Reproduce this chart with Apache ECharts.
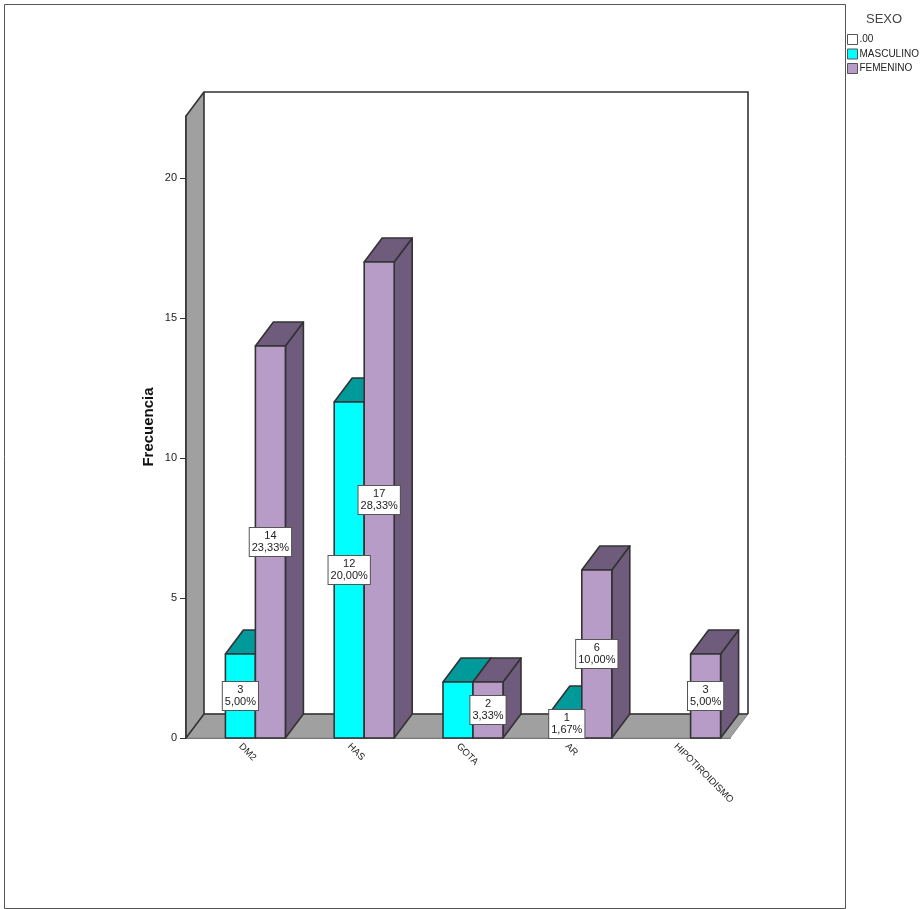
<!DOCTYPE html>
<html>
<head>
<meta charset="utf-8">
<style>html,body{margin:0;padding:0;background:#fff}#chart{width:924px;height:909px}</style>
<script src="https://cdn.jsdelivr.net/npm/echarts@6/dist/echarts.min.js"></script>
</head>
<body>
<div id="chart"></div>
<script>
// Frequency of diagnoses by sex, drawn as extruded bars
const categories = ['DM2', 'HAS', 'GOTA', 'AR', 'HIPOTIROIDISMO'];
const blankValues = [0, 0, 0, 0, 0];
const maleValues = [3, 12, 2, 1, 0];
const femaleValues = [14, 17, 2, 6, 3];
const malePercents = ['5,00%', '20,00%', null, '1,67%', null];
const femalePercents = ['23,33%', '28,33%', '3,33%', '10,00%', '5,00%'];
const yTicks = [0, 5, 10, 15, 20];

// Extrusion offset of the plot box and bars, in pixels
const DEPTH_X = 18, DEPTH_Y = 24;
// Each category holds three side-by-side slots
const SLOT_SHARE = 0.2757;
const INK = '#333333';
const LINE = 1.6;

function poly(points, fill) {
  return { type: 'polygon', shape: { points }, style: { fill, stroke: INK, lineWidth: LINE, lineJoin: 'round' } };
}

function line(points) {
  return { type: 'polyline', shape: { points }, style: { fill: null, stroke: INK, lineWidth: LINE } };
}

function renderBox(params) {
  const c = params.coordSys;
  const l = c.x, r = c.x + c.width, t = c.y, b = c.y + c.height;
  const wall = '#a0a0a0';
  return {
    type: 'group',
    children: [
      // Floor fill carries no outline so its far-right diagonal stays soft
      {
        type: 'polygon',
        shape: { points: [[l, b], [l + DEPTH_X, b - DEPTH_Y], [r + DEPTH_X, b - DEPTH_Y], [r, b]] },
        style: { fill: wall, stroke: '#8a8a8a', lineWidth: 1 }
      },
      line([[l + DEPTH_X, b - DEPTH_Y], [r + DEPTH_X, b - DEPTH_Y]]),
      poly([[l, t], [l + DEPTH_X, t - DEPTH_Y], [l + DEPTH_X, b - DEPTH_Y], [l, b]], wall),
      line([[l + DEPTH_X, t - DEPTH_Y], [r + DEPTH_X, t - DEPTH_Y], [r + DEPTH_X, b - DEPTH_Y]])
    ]
  };
}

function slotRect(api, slot) {
  const top = api.coord([api.value(0), api.value(1)]);
  const base = api.coord([api.value(0), 0]);
  const w = api.size([1, 0])[0] * SLOT_SHARE;
  const x0 = top[0] + (slot - 0.5) * w;
  return { x0, x1: x0 + w, w, top: top[1], base: base[1] };
}

function barRenderer(slot, front, shade) {
  return function (params, api) {
    if (!api.value(1)) return null;
    const { x0, x1, top, base } = slotRect(api, slot);
    const dx = DEPTH_X, dy = DEPTH_Y;
    return {
      type: 'group',
      children: [
        poly([[x1, top], [x1 + dx, top - dy], [x1 + dx, base - dy], [x1, base]], shade),
        poly([[x0, top], [x0 + dx, top - dy], [x1 + dx, top - dy], [x1, top]], shade),
        poly([[x0, top], [x1, top], [x1, base], [x0, base]], front)
      ]
    };
  };
}

function labelRenderer(slot, percents) {
  return function (params, api) {
    const pct = percents[params.dataIndex];
    if (!api.value(1) || !pct) return null;
    const { x0, w, top, base } = slotRect(api, slot);
    return {
      type: 'text',
      x: x0 + w / 2,
      y: (top + base) / 2,
      style: {
        text: api.value(1) + '\n' + pct,
        align: 'center',
        verticalAlign: 'middle',
        fontFamily: 'Liberation Sans',
        fontSize: 11,
        lineHeight: 12,
        fill: '#222',
        backgroundColor: '#fff',
        borderColor: '#555',
        borderWidth: 1,
        padding: [2, 2, 2, 2]
      }
    };
  };
}

const rows = values => values.map((v, i) => [i, v]);
const xy = { x: 0, y: 1 };

const option = {
  animation: false,
  backgroundColor: '#fff',
  textStyle: { fontFamily: 'Liberation Sans' },
  title: {
    text: 'SEXO', left: 861, top: 8,
    textStyle: { fontSize: 13, fontWeight: 'normal', color: '#444', fontFamily: 'Liberation Sans' }
  },
  legend: {
    left: 847, top: 34, orient: 'vertical', itemWidth: 10, itemHeight: 10, itemGap: 3.5,
    padding: 0, selectedMode: false, icon: 'rect',
    textStyle: { fontSize: 10, color: '#222', padding: [0, 0, 0, -3] },
    data: [
      { name: '.00', itemStyle: { color: '#fff', borderColor: '#555', borderWidth: 1 } },
      { name: 'MASCULINO', itemStyle: { color: '#00ffff', borderColor: '#555', borderWidth: 1 } },
      { name: 'FEMENINO', itemStyle: { color: '#b89cc8', borderColor: '#555', borderWidth: 1 } }
    ]
  },
  grid: { left: 186, top: 116, width: 544, height: 622 },
  xAxis: {
    type: 'category',
    data: categories,
    axisLine: { lineStyle: { color: INK, width: LINE } },
    axisTick: { alignWithLabel: true, length: 6, lineStyle: { color: INK } },
    axisLabel: { rotate: -45, fontSize: 9.5, color: '#222', margin: 7, interval: 0 }
  },
  yAxis: {
    type: 'value',
    min: 0,
    max: 622 / 28,
    name: 'Frecuencia',
    nameLocation: 'middle',
    nameGap: 30,
    nameMoveOverlap: false,
    nameTextStyle: { fontSize: 15, fontWeight: 'bold', color: '#111' },
    splitLine: { show: false },
    axisLine: { show: true, lineStyle: { color: INK, width: LINE } },
    axisTick: { show: true, length: 6, lineStyle: { color: INK }, customValues: yTicks },
    axisLabel: { fontSize: 11, color: '#222', margin: 9, customValues: yTicks }
  },
  graphic: [{
    type: 'rect', silent: true, z: -1,
    shape: { x: 4.5, y: 4.5, width: 841, height: 904 },
    style: { fill: null, stroke: '#555', lineWidth: 1 }
  }],
  series: [
    { type: 'custom', name: 'box', z: 1, silent: true, data: [[0, 0]], encode: xy, renderItem: renderBox },
    { type: 'custom', name: '.00', z: 2, data: rows(blankValues), encode: xy, itemStyle: { color: '#fff' },
      renderItem: barRenderer(-1, '#ffffff', '#999999') },
    { type: 'custom', name: 'MASCULINO', z: 2, data: rows(maleValues), encode: xy, itemStyle: { color: '#00ffff' },
      renderItem: barRenderer(0, '#00ffff', '#009a9a') },
    { type: 'custom', name: 'FEMENINO', z: 3, data: rows(femaleValues), encode: xy, itemStyle: { color: '#b89cc8' },
      renderItem: barRenderer(1, '#b89cc8', '#6f5b7c') },
    { type: 'custom', name: 'masculino-etiquetas', z: 4, silent: true, data: rows(maleValues), encode: xy,
      renderItem: labelRenderer(0, malePercents) },
    { type: 'custom', name: 'femenino-etiquetas', z: 4, silent: true, data: rows(femaleValues), encode: xy,
      renderItem: labelRenderer(1, femalePercents) }
  ]
};

echarts.init(document.getElementById('chart'), null, { renderer: 'canvas' }).setOption(option);
</script>
</body>
</html>
